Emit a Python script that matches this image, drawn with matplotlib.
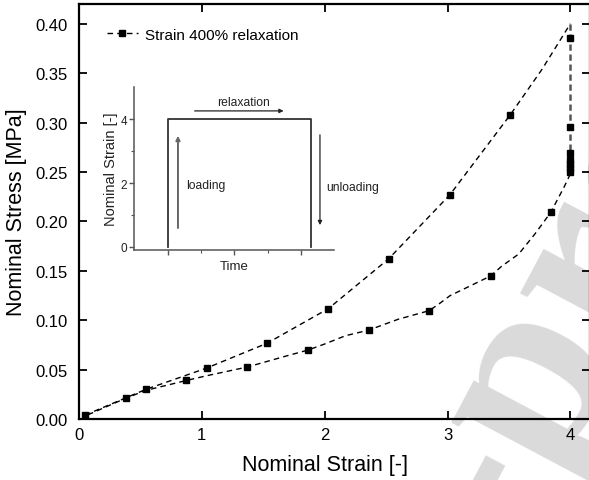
import matplotlib
matplotlib.use('Agg')
import matplotlib.pyplot as plt

plt.rcParams['font.family'] = ['Liberation Sans', 'DejaVu Sans']

# loading branch (line, markers at given indices)
load_x = [0.05, 0.545, 1.04, 1.53, 2.03, 2.52, 3.02, 3.51, 3.77, 4.00]
load_y = [0.004, 0.030, 0.0516, 0.0766, 0.1117, 0.162, 0.227, 0.3077, 0.354, 0.400]
load_marks = [0, 1, 2, 3, 4, 5, 6, 7]

# relaxation at strain 4
relax_x = [4.0, 4.0, 4.0, 4.0, 4.0, 4.0, 4.0, 4.0]
relax_y = [0.400, 0.386, 0.2955, 0.269, 0.262, 0.258, 0.254, 0.250]
relax_marks = [1, 2, 3, 4, 5, 6, 7]

# unloading branch
unload_x = [4.00, 3.95, 3.84, 3.71, 3.58, 3.44, 3.35, 3.20, 3.02, 2.93, 2.85, 2.60, 2.49,
            2.36, 2.17, 2.00, 1.865, 1.68, 1.37, 1.04, 0.875, 0.545, 0.38, 0.05]
unload_y = [0.248, 0.235, 0.209, 0.187, 0.167, 0.1545, 0.1447, 0.1356, 0.1248, 0.1164, 0.1096,
            0.101, 0.096, 0.090, 0.0843, 0.0759, 0.0698, 0.0635, 0.0526, 0.0438, 0.039,
            0.029, 0.021, 0.003]
unload_marks = [2, 6, 10, 13, 16, 18, 20, 22]

# inset: strain history
step_t = [1.0, 1.0, 5.31, 5.31]
step_s = [0.0, 4.0, 4.0, 0.0]

fig = plt.figure(figsize=(5.89, 4.81), dpi=100)

# watermark
fig.text(0.895, 0.19, 'Pre-proof', rotation=62, rotation_mode='anchor',
         fontsize=185, family='Liberation Serif', weight='bold', color='#dadada',
         ha='center', va='center', zorder=-1)

ax = fig.add_axes([79 / 589, 61 / 481, 511 / 589, 415 / 481])
ax.patch.set_visible(False)

dash = (4, 3)
ax.plot(load_x, load_y, color='black', lw=1.0, dashes=dash, marker='s', ms=5,
        markevery=load_marks, label='Strain 400% relaxation')
ax.plot(relax_x, relax_y, color='#555555', lw=1.8, dashes=(2.5, 1.5), marker='s', ms=5,
        mfc='black', mec='black', markevery=relax_marks)
ax.plot(unload_x, unload_y, color='black', lw=1.0, dashes=dash, marker='s', ms=5,
        markevery=unload_marks)

ax.set_xlim(0, 4.16)
ax.set_ylim(0, 0.42)
ax.set_xticks([0, 1, 2, 3, 4])
ax.set_yticks([0.0, 0.05, 0.10, 0.15, 0.20, 0.25, 0.30, 0.35, 0.40])
ax.set_yticklabels(['0.00', '0.05', '0.10', '0.15', '0.20', '0.25', '0.30', '0.35', '0.40'])
ax.tick_params(direction='in', length=6, width=1.3, labelsize=12, pad=6,
               top=True, right=True)
ax.tick_params(axis='y', pad=8)
for s in ax.spines.values():
    s.set_linewidth(1.6)
ax.set_xlabel('Nominal Strain [-]', fontsize=15.5, labelpad=3)
ax.xaxis.set_label_coords(0.481, -0.085)
ax.set_ylabel('Nominal Stress [MPa]', fontsize=15.5, labelpad=6)

ax.legend(loc='upper left', bbox_to_anchor=(0.055, 0.943), frameon=False,
          fontsize=11, handlelength=2.0, handletextpad=0.5, borderpad=0,
          borderaxespad=0, numpoints=1)

# inset
ins = fig.add_axes([134.3 / 589, (481 - 251) / 481, 200 / 589, 162.7 / 481])
ins.plot(step_t, step_s, color='#333333', lw=1.3)
ins.set_xlim(0, 6)
ins.set_ylim(-0.1, 5.0)
ins.set_xticks([1, 3, 5])
ins.set_xticks([2, 4], minor=True)
ins.set_xticklabels([])
ins.set_yticks([0, 2, 4])
ins.set_yticks([1, 3], minor=True)
ins.spines['top'].set_visible(False)
ins.spines['right'].set_visible(False)
for s in ['left', 'bottom']:
    ins.spines[s].set_color('#555555')
    ins.spines[s].set_linewidth(1.1)
ins.tick_params(which='major', direction='out', length=3.5, width=1, colors='#555555',
                labelcolor='#222222', labelsize=8.5, pad=1.5)
ins.tick_params(which='minor', direction='out', length=2, width=0.8, colors='#555555')
ins.set_xlabel('Time', fontsize=9.5, labelpad=2, color='#222222')
ins.set_ylabel('Nominal Strain [-]', fontsize=10.5, labelpad=2, color='#222222')

ins.annotate('', xy=(1.31, 3.48), xytext=(1.31, 0.59),
             arrowprops=dict(arrowstyle='-|>', color='#666666', lw=1.4, mutation_scale=6,
                             shrinkA=0, shrinkB=0))
ins.text(1.55, 1.94, 'loading', fontsize=8.7, va='center', ha='left', color='#222222')
ins.annotate('', xy=(4.48, 4.26), xytext=(1.81, 4.26),
             arrowprops=dict(arrowstyle='-|>', color='#222222', lw=0.9, mutation_scale=6,
                             shrinkA=0, shrinkB=0))
ins.text(3.29, 4.55, 'relaxation', fontsize=8.7, va='center', ha='center', color='#222222')
ins.annotate('', xy=(5.57, 0.68), xytext=(5.57, 3.51), annotation_clip=False,
             arrowprops=dict(arrowstyle='-|>', color='#222222', lw=0.9, mutation_scale=6,
                             shrinkA=0, shrinkB=0))
ins.text(5.76, 1.88, 'unloading', fontsize=8.7, va='center', ha='left', color='#222222',
         clip_on=False)

fig.savefig('out.png', dpi=100)
